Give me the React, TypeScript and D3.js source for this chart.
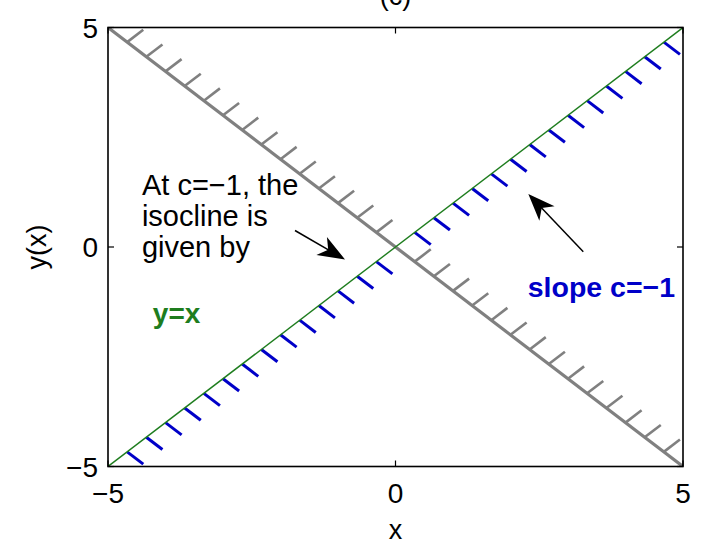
import React from "react";
import * as d3 from "d3";

const W = 708;
const H = 546;

// axis domains and ticks
const xDomain = [-5, 5];
const yDomain = [-5, 5];
const xTicks = [-5, 0, 5];
const yTicks = [-5, 0, 5];

// isoclines (endpoints in data coordinates)
const grayLine = [[-5, 5], [5, -5]]; // y = -x
const greenLine = [[-5, -5], [5, 5]]; // y = x

// positions where short slope segments are drawn
const markX = [
  -14 / 3, -13 / 3, -4, -11 / 3, -10 / 3, -3, -8 / 3, -7 / 3, -2, -5 / 3, -4 / 3, -1, -2 / 3, -1 / 3,
  1 / 3, 2 / 3, 1, 4 / 3, 5 / 3, 2, 7 / 3, 8 / 3, 3, 10 / 3, 11 / 3, 4, 13 / 3, 14 / 3,
];
const markLen = 0.28; // half-diagonal of segment in data units

// annotations
const noteLines = ["At c=\u22121, the", "isocline is", "given by"];
const notePos = [-4.41, 1.18];
const greenLabel = "y=x";
const greenLabelPos = [-4.22, -1.73];
const blueLabel = "slope c=\u22121";
const blueLabelPos = [2.3, -1.14];
const arrows = [
  { from: [-1.748, 0.376], to: [-0.878, -0.285] },
  { from: [3.266, -0.107], to: [2.31, 1.207] },
];

const FONT = "'Liberation Sans', Arial, Helvetica, sans-serif";
const GRAY = "#808080";
const GREEN = "#1e7d1e";
const BLUE = "#0000c8";

export default function App() {
  const x = d3.scaleLinear().domain(xDomain).range([108, 683]);
  const y = d3.scaleLinear().domain(yDomain).range([466.5, 27.5]);
  const line = d3
    .line<number[]>()
    .x((d) => x(d[0]))
    .y((d) => y(d[1]));

  const arrowHead = (a: { from: number[]; to: number[] }) => {
    const x1 = x(a.from[0]);
    const y1 = y(a.from[1]);
    const x2 = x(a.to[0]);
    const y2 = y(a.to[1]);
    const dx = x2 - x1;
    const dy = y2 - y1;
    const len = Math.hypot(dx, dy);
    const ux = dx / len;
    const uy = dy / len;
    const L = 27;
    const hw = 10.5;
    const bx = x2 - ux * L;
    const by = y2 - uy * L;
    const nx = -uy;
    const ny = ux;
    const pts = [
      [x2, y2],
      [bx + nx * hw, by + ny * hw],
      [x2 - ux * L * 0.72, y2 - uy * L * 0.72],
      [bx - nx * hw, by - ny * hw],
    ];
    return {
      shaft: [x1, y1, x2 - ux * L * 0.6, y2 - uy * L * 0.6],
      head: pts.map((p) => p.join(",")).join(" "),
    };
  };

  return (
    <svg
      width={W}
      height={H}
      style={{ position: "absolute", left: 0, top: 0, background: "#fff" }}
      fontFamily={FONT}
    >
      <defs>
        <clipPath id="plot">
          <rect x={108} y={27.5} width={575} height={439} />
        </clipPath>
      </defs>
      <rect width={W} height={H} fill="#fff" />

      <text x={x(0)} y={5} fontSize={27} textAnchor="middle" fill="#000">
        (c)
      </text>

      <g clipPath="url(#plot)">
        <path d={line(grayLine as number[][]) || ""} stroke={GRAY} strokeWidth={3.2} fill="none" />
        {markX.map((v, i) => (
          <line
            key={"g" + i}
            x1={x(v)}
            y1={y(-v)}
            x2={x(v + markLen)}
            y2={y(-v + markLen)}
            stroke={GRAY}
            strokeWidth={2.6}
          />
        ))}
        {markX.map((v, i) => (
          <line
            key={"b" + i}
            x1={x(v)}
            y1={y(v)}
            x2={x(v + markLen)}
            y2={y(v - markLen)}
            stroke={BLUE}
            strokeWidth={3}
          />
        ))}
        <path d={line(greenLine as number[][]) || ""} stroke={GREEN} strokeWidth={1.4} fill="none" />
      </g>

      {/* axes box */}
      <rect x={108} y={27.5} width={575} height={439} fill="none" stroke="#000" strokeWidth={1.6} />
      {xTicks.map((t) => (
        <g key={"xt" + t}>
          <line x1={x(t)} x2={x(t)} y1={466.5} y2={460.5} stroke="#000" strokeWidth={1.2} />
          <line x1={x(t)} x2={x(t)} y1={27.5} y2={33.5} stroke="#000" strokeWidth={1.2} />
          <text x={x(t)} y={503} fontSize={28} textAnchor="middle" fill="#000">
            {t < 0 ? "\u2212" + Math.abs(t) : String(t)}
          </text>
        </g>
      ))}
      {yTicks.map((t) => (
        <g key={"yt" + t}>
          <line x1={108} x2={114} y1={y(t)} y2={y(t)} stroke="#000" strokeWidth={1.2} />
          <line x1={683} x2={677} y1={y(t)} y2={y(t)} stroke="#000" strokeWidth={1.2} />
          <text x={98} y={y(t) + 10} fontSize={28} textAnchor="end" fill="#000">
            {t < 0 ? "\u2212" + Math.abs(t) : String(t)}
          </text>
        </g>
      ))}
      <text x={x(0)} y={539} fontSize={27} textAnchor="middle" fill="#000">
        x
      </text>
      <text
        transform={`translate(46,${y(0)}) rotate(-90)`}
        fontSize={27}
        textAnchor="middle"
        fill="#000"
      >
        y(x)
      </text>

      {/* annotations */}
      <text x={x(notePos[0])} y={y(notePos[1])} fontSize={29} fill="#000">
        {noteLines.map((l, i) => (
          <tspan key={i} x={x(notePos[0])} dy={i === 0 ? 0 : 31}>
            {l}
          </tspan>
        ))}
      </text>
      <text
        x={x(greenLabelPos[0])}
        y={y(greenLabelPos[1])}
        fontSize={28}
        fontWeight="bold"
        fill={GREEN}
      >
        {greenLabel}
      </text>
      <text
        x={x(blueLabelPos[0])}
        y={y(blueLabelPos[1])}
        fontSize={28.5}
        fontWeight="bold"
        fill={BLUE}
      >
        {blueLabel}
      </text>
      {arrows.map((a, i) => {
        const h = arrowHead(a);
        return (
          <g key={"a" + i}>
            <line
              x1={h.shaft[0]}
              y1={h.shaft[1]}
              x2={h.shaft[2]}
              y2={h.shaft[3]}
              stroke="#000"
              strokeWidth={1.5}
            />
            <polygon points={h.head} fill="#000" />
          </g>
        );
      })}
    </svg>
  );
}
